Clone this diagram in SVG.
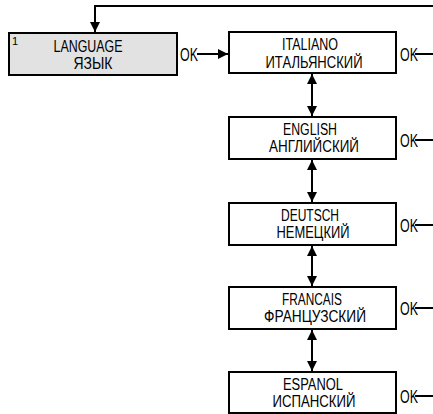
<svg xmlns="http://www.w3.org/2000/svg" width="433" height="414" viewBox="0 0 433 414">
<style>
.box{fill:#fff;stroke:#000;stroke-width:2}
.gray{fill:#e2e2e2}
.t{font-family:"Liberation Sans",Arial,sans-serif;font-size:16px;fill:#000;text-anchor:middle}
.ok{font-family:"Liberation Sans",Arial,sans-serif;font-size:18px;fill:#000}
.num{font-family:"Liberation Sans",Arial,sans-serif;font-size:11px;fill:#000}
.ln{stroke:#000;stroke-width:2;fill:none}
</style>
<defs>
<marker id="ah" viewBox="0 0 10 10" refX="10" refY="5" markerWidth="5.5" markerHeight="5" orient="auto-start-reverse" markerUnits="strokeWidth">
<path d="M0,0 L10,5 L0,10 z" fill="#000"/>
</marker>
</defs>
<g id="connectors">
<path class="ln" d="M433,6 H95 V32" marker-end="url(#ah)"/>
<line class="ln" x1="197" y1="54" x2="228" y2="54" marker-end="url(#ah)"/>
<line class="ln" x1="312" y1="74" x2="312" y2="116" marker-start="url(#ah)" marker-end="url(#ah)"/>
<line class="ln" x1="312" y1="160" x2="312" y2="202" marker-start="url(#ah)" marker-end="url(#ah)"/>
<line class="ln" x1="312" y1="246" x2="312" y2="286" marker-start="url(#ah)" marker-end="url(#ah)"/>
<line class="ln" x1="312" y1="330" x2="312" y2="371" marker-start="url(#ah)" marker-end="url(#ah)"/>
<line class="ln" x1="415" y1="54" x2="433" y2="54"/>
<line class="ln" x1="415" y1="140" x2="433" y2="140"/>
<line class="ln" x1="415" y1="225" x2="433" y2="225"/>
<line class="ln" x1="415" y1="308" x2="433" y2="308"/>
<line class="ln" x1="415" y1="396" x2="433" y2="396"/>
</g>
<g id="language">
<rect class="box gray" x="9" y="33" width="168" height="42"/>
<text class="num" x="12" y="45">1</text>
<text class="t" x="88" y="52" textLength="69" lengthAdjust="spacingAndGlyphs">LANGUAGE</text>
<text class="t" x="93" y="69" textLength="39" lengthAdjust="spacingAndGlyphs">ЯЗЫК</text>
<text class="ok" x="180" y="61" textLength="18" lengthAdjust="spacingAndGlyphs">OK</text>
</g>
<g id="italiano">
<rect class="box" x="229" y="32" width="167" height="41"/>
<text class="t" x="310" y="50" textLength="56" lengthAdjust="spacingAndGlyphs">ITALIANO</text>
<text class="t" x="314" y="68" textLength="97" lengthAdjust="spacingAndGlyphs">ИТАЛЬЯНСКИЙ</text>
<text class="ok" x="400" y="61" textLength="18" lengthAdjust="spacingAndGlyphs">OK</text>
</g>
<g id="english">
<rect class="box" x="229" y="117" width="167" height="42"/>
<text class="t" x="310" y="135" textLength="54" lengthAdjust="spacingAndGlyphs">ENGLISH</text>
<text class="t" x="314" y="152" textLength="90" lengthAdjust="spacingAndGlyphs">АНГЛИЙСКИЙ</text>
<text class="ok" x="400" y="147" textLength="18" lengthAdjust="spacingAndGlyphs">OK</text>
</g>
<g id="deutsch">
<rect class="box" x="229" y="203" width="167" height="42"/>
<text class="t" x="310" y="221" textLength="58" lengthAdjust="spacingAndGlyphs">DEUTSCH</text>
<text class="t" x="313" y="238" textLength="73" lengthAdjust="spacingAndGlyphs">НЕМЕЦКИЙ</text>
<text class="ok" x="400" y="232" textLength="18" lengthAdjust="spacingAndGlyphs">OK</text>
</g>
<g id="francais">
<rect class="box" x="229" y="287" width="167" height="42"/>
<text class="t" x="312" y="305" textLength="60" lengthAdjust="spacingAndGlyphs">FRANCAIS</text>
<text class="t" x="315" y="322" textLength="102" lengthAdjust="spacingAndGlyphs">ФРАНЦУЗСКИЙ</text>
<text class="ok" x="400" y="315" textLength="18" lengthAdjust="spacingAndGlyphs">OK</text>
</g>
<g id="espanol">
<rect class="box" x="229" y="372" width="167" height="41"/>
<text class="t" x="313" y="390" textLength="60" lengthAdjust="spacingAndGlyphs">ESPANOL</text>
<text class="t" x="314" y="407" textLength="83" lengthAdjust="spacingAndGlyphs">ИСПАНСКИЙ</text>
<text class="ok" x="400" y="403" textLength="18" lengthAdjust="spacingAndGlyphs">OK</text>
</g>
</svg>
